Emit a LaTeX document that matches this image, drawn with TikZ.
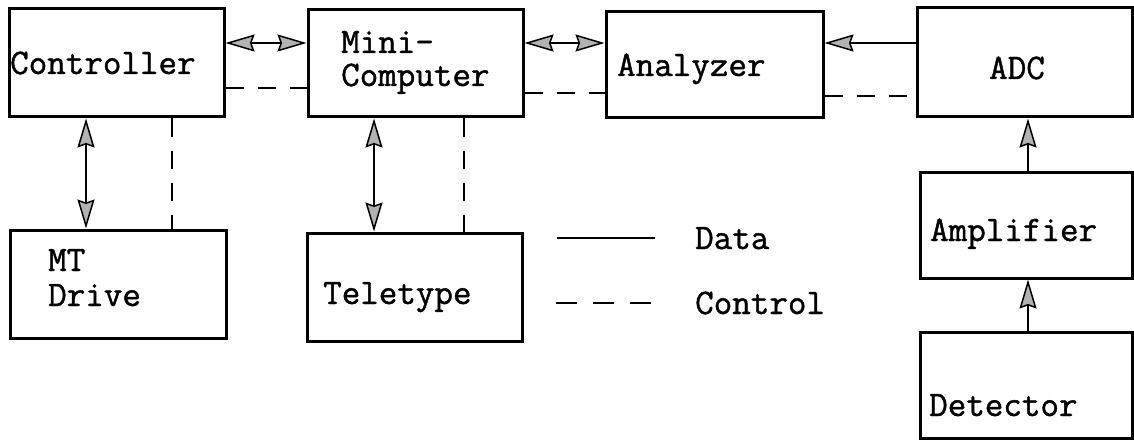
\documentclass[tikz,border=0pt]{standalone}
\usepackage{fontspec}
\setmonofont{Latin Modern Mono}[FakeBold=1.2]
\usetikzlibrary{arrows.meta}
\tikzset{
  dart/.tip={Stealth[length=29pt,width=17pt,inset=3pt,fill=gray!60,line width=1.5pt]},
  blk/.style={draw, line width=3pt, rectangle, inner sep=0pt},
  lbl/.style={anchor=base west, inner sep=0pt, font=\fontsize{36}{40}\ttfamily},
  data/.style={line width=2.5pt},
  ctl/.style={line width=2.5pt, dash pattern=on 18pt off 14pt},
}
\begin{document}
\begin{tikzpicture}[x=1pt,y=-1pt]
\useasboundingbox (0,0) rectangle (1134,441);
\fill[white] (0,0) rectangle (1134,441);
% boxes
\node[blk, minimum width=215pt, minimum height=108pt] (ctrl) at (116.5,63) {};
\node[blk, minimum width=215pt, minimum height=107pt] (mini) at (415.5,63.5) {};
\node[blk, minimum width=217pt, minimum height=106pt] (anl) at (714.5,65) {};
\node[blk, minimum width=215pt, minimum height=109pt] (adc) at (1024.5,62.5) {};
\node[blk, minimum width=216pt, minimum height=108pt] (mt) at (118,284) {};
\node[blk, minimum width=215pt, minimum height=108pt] (tty) at (414.5,287) {};
\node[blk, minimum width=212pt, minimum height=106pt] (amp) at (1026,225) {};
\node[blk, minimum width=212pt, minimum height=106pt] (det) at (1026,385) {};
% texts
\node[lbl] (tctrl) at (10,74) {Controller};
\node[lbl] (tmini) at (341,53) {Mini-};
\node[lbl] (tcomp) at (341,86) {Computer};
\node[lbl] (tanl) at (617,76) {Analyzer};
\node[lbl] (tadc) at (989,79) {ADC};
\node[lbl] (tmt) at (48,271) {MT};
\node[lbl] (tdrv) at (48,306) {Drive};
\node[lbl] (ttty) at (323,304) {Teletype};
\node[lbl] (tdata) at (695,249) {Data};
\node[lbl] (tctl) at (695,314) {Control};
\node[lbl] (tamp) at (930,241) {Amplifier};
\node[lbl] (tdet) at (929,416) {Detector};
% helper coordinates
\coordinate (h43) at (0,43);
\coordinate (h88) at (0,88);
\coordinate (h93) at (0,93);
\coordinate (h96) at (0,96);
\coordinate (v86) at (86,0);
\coordinate (v172) at (172,0);
\coordinate (v374) at (374,0);
\coordinate (v464) at (464,0);
\coordinate (v1028) at (1028,0);
% top row connectors
\draw[data, dart-dart] (ctrl.east |- h43) -- (mini.west |- h43);
\draw[ctl] (ctrl.east |- h88) -- (mini.west |- h88);
\draw[data, dart-dart] (mini.east |- h43) -- (anl.west |- h43);
\draw[ctl] (mini.east |- h93) -- (anl.west |- h93);
\draw[data, -dart] (adc.west |- h43) -- (anl.east |- h43);
\draw[ctl] (anl.east |- h96) -- (adc.west |- h96);
% vertical connectors
\draw[data, dart-dart] (ctrl.south -| v86) -- (mt.north -| v86);
\draw[ctl] (ctrl.south -| v172) -- (mt.north -| v172);
\draw[data, dart-dart] (mini.south -| v374) -- (tty.north -| v374);
\draw[ctl] (mini.south -| v464) -- (tty.north -| v464);
\draw[data, -dart] (amp.north -| v1028) -- (adc.south -| v1028);
\draw[data, -dart] (det.north -| v1028) -- (amp.south -| v1028);
% legend
\coordinate (d1) at (557,238);
\coordinate (d2) at (655,238);
\coordinate (c1) at (556,303);
\coordinate (c2) at (651,303);
\draw[data] (d1) -- (d2);
\draw[line width=2.5pt, dash pattern=on 21pt off 16pt] (c1) -- (c2);
\end{tikzpicture}
\end{document}
